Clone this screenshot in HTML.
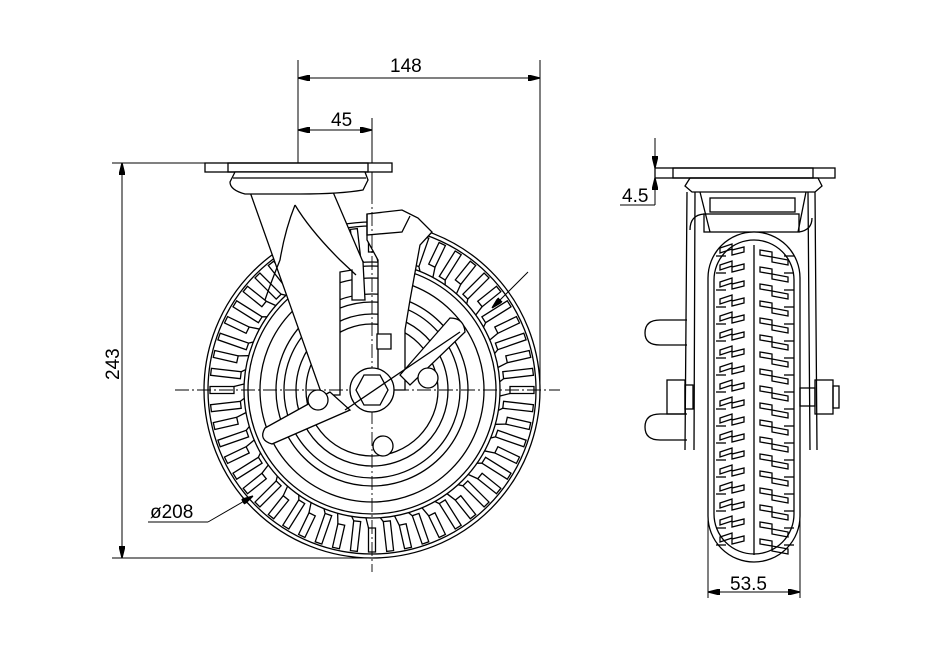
<!DOCTYPE html>
<html><head><meta charset="utf-8"><style>
html,body{margin:0;padding:0;background:#fff}
svg{display:block}
text{font-family:"Liberation Sans",sans-serif;font-size:19px;fill:#000}
</style></head><body>
<svg id="s" width="927" height="660" viewBox="0 0 927 660" xmlns="http://www.w3.org/2000/svg" fill="none" stroke="#000" stroke-width="1.3">
<defs><marker id="a" markerWidth="12" markerHeight="6" refX="12" refY="3" orient="auto-start-reverse" markerUnits="userSpaceOnUse"><path d="M0,0 L12,3 L0,6z" fill="#000"/></marker></defs>
<g stroke-width="1">
<line x1="298" y1="60" x2="298" y2="165"/><line x1="540" y1="60" x2="540" y2="390"/>
<line x1="298" y1="78" x2="540" y2="78" marker-start="url(#a)" marker-end="url(#a)"/>
<line x1="372" y1="118" x2="372" y2="200"/>
<line x1="298" y1="130" x2="372" y2="130" marker-start="url(#a)" marker-end="url(#a)"/>
<line x1="112" y1="163" x2="205" y2="163"/><line x1="112" y1="558" x2="372" y2="558"/>
<line x1="122" y1="163" x2="122" y2="558" marker-start="url(#a)" marker-end="url(#a)"/>
<line x1="148" y1="522" x2="208" y2="522"/><line x1="208" y1="522" x2="253" y2="496" marker-end="url(#a)"/>
<line x1="492" y1="308" x2="528" y2="272" marker-start="url(#a)"/>
<line x1="655" y1="138" x2="655" y2="168" marker-end="url(#a)"/>
<line x1="655" y1="178" x2="655" y2="205" marker-start="url(#a)"/>
<line x1="620" y1="205" x2="655" y2="205"/>
<line x1="708" y1="430" x2="708" y2="598"/><line x1="800" y1="430" x2="800" y2="598"/>
<line x1="708" y1="592" x2="800" y2="592" marker-start="url(#a)" marker-end="url(#a)"/>
</g>
<g stroke="none">
<text x="390" y="72">148</text><text x="331" y="126">45</text>
<text transform="translate(119,380) rotate(-90)">243</text>
<text x="150" y="518">ø208</text><text x="622" y="202">4.5</text><text x="730" y="590">53.5</text>
</g>
<g id="L"></g>
<!-- fork (occludes wheel) -->
<path d="M250,192 L333,192 L363,262 L365,300 L352,300 L352,270 L340,272 L340,395 L322,395 Z" fill="#fff"/>
<path d="M367,214 L402,210 L418,218 L432,232 L420,245 L410,300 L405,330 L405,390 L378,390 L378,260 L367,240 Z" fill="#fff"/>
<path d="M367,214 L367,235 L402,232 L410,216"/>
<g stroke-dasharray="14,3,2,3" stroke-width="0.9">
<line x1="175" y1="390" x2="560" y2="390"/><line x1="372" y1="190" x2="372" y2="572"/>
</g>
<rect x="205" y="163" width="187" height="9" fill="#fff"/><rect x="228" y="163" width="140" height="9"/>
<path d="M235,172 H365 L368,180 L363,190 Q340,194 300,194 L245,194 Q230,190 230,182z" fill="#fff"/>
<line x1="233" y1="178" x2="366" y2="178"/>
<path d="M295,205 Q285,230 280,260 Q270,285 265,300" />
<path d="M295,205 Q310,230 340,260 L356,275"/>
<path d="M377,334 h14 v15 h-14z" fill="#fff"/>
<path d="M330,392 L265,428 Q258,440 272,444 L350,410 Z" fill="#fff"/>
<path d="M400,375 L450,318 Q464,318 465,332 L410,385 Z" fill="#fff"/>
<circle cx="372" cy="390" r="22" fill="#fff"/>
<path d="M364,375 h16 l8,15 l-8,15 h-16 l-8,-15z"/>
<line x1="345" y1="410" x2="460" y2="332"/>
<circle cx="383" cy="446" r="10" fill="#fff"/><circle cx="428" cy="378" r="10" fill="#fff"/><circle cx="318" cy="400" r="10" fill="#fff"/>
<!-- right view -->
<rect x="655" y="168" width="180" height="10"/><rect x="673" y="168" width="140" height="10"/>
<path d="M690,178 H818 L822,186 L815,192 H692 L685,186z"/>
<path d="M687,192 L685,450 M815,192 L817,450 M695,192 L694,450 M808,192 L810,450"/>
<path d="M700,192 L710,232 M806,192 L798,232"/>
<rect x="710" y="198" width="85" height="14"/><rect x="704" y="214" width="95" height="18"/>
<path d="M704,214 Q690,215 690,230 M799,232 Q812,230 812,218"/>
<rect x="708" y="232" width="92" height="330" rx="46" ry="46" fill="#fff"/>
<rect x="714" y="240" width="80" height="314" rx="40" ry="40"/>
<line x1="754" y1="245" x2="754" y2="555"/>
<path d="M687,320 H660 Q645,320 645,333 Q645,345 660,345 H687 M687,414 H660 Q645,414 645,427 Q645,440 660,440 H687"/>
<rect x="667" y="380" width="18" height="34"/><rect x="685" y="385" width="8" height="24"/>
<rect x="815" y="380" width="18" height="34"/><rect x="833" y="386" width="6" height="22"/><rect x="800" y="388" width="15" height="18"/>
<g id="R"></g>
</svg>
<script>
var ns="http://www.w3.org/2000/svg";
function el(p,t,a){var e=document.createElementNS(ns,t);for(var k in a)e.setAttribute(k,a[k]);p.appendChild(e);return e;}
var L=document.getElementById('L'),cx=372,cy=390;
[168,164,128,124,112,96,88,76,66].forEach(function(r){el(L,'circle',{cx:cx,cy:cy,r:r});});
for(var i=0;i<56;i++){var a=i/56*2*Math.PI,c=Math.cos(a),s=Math.sin(a),px=-s,py=c;
var r1=(i%2)?132:138,r2=162,w=3.5;
var pts=[[r1,-w],[r2,-w],[r2,w],[r1,w]].map(function(q){return (cx+c*q[0]+px*q[1]).toFixed(1)+','+(cy+s*q[0]+py*q[1]).toFixed(1)}).join(' ');
el(L,'polygon',{points:pts});
el(L,'line',{x1:cx+c*128+px*6,y1:cy+s*128+py*6,x2:cx+c*r1+px*3.5,y2:cy+s*r1+py*3.5});}
var R=document.getElementById('R');
for(var y=248;y<550;y+=17){
el(R,'path',{d:'M720,'+y+' l12,-4 l0,6 l12,-3 v5 l-12,3 v-6 l-12,4z'});
el(R,'path',{d:'M760,'+(y+2)+' l12,2 l0,5 l16,3 v5 l-16,-3 v-5 l-12,-2z'});
el(R,'line',{x1:716,y1:y+8,x2:726,y2:y+8});el(R,'line',{x1:784,y1:y+8,x2:794,y2:y+8});}
</script>
</body></html>
